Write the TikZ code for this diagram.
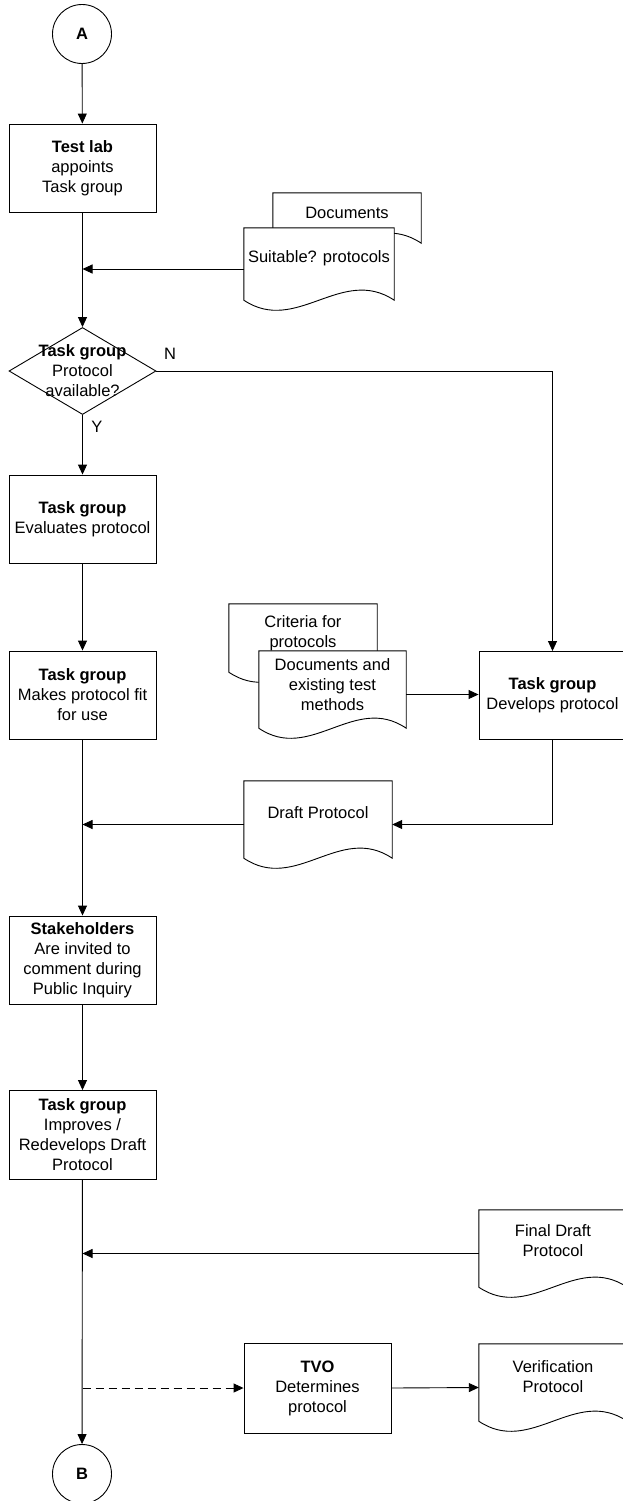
\documentclass[tikz,border=0pt]{standalone}
\usepackage{fontspec}
\setmainfont{Liberation Sans}
\usetikzlibrary{shapes.geometric,arrows.meta,calc}
\tikzset{
  base/.style={font=\fontsize{16.5pt}{20pt}\selectfont, align=center, inner sep=0pt},
  proc/.style={base, draw, line width=0.9pt, minimum width=147pt, minimum height=88pt},
  conn/.style={base, draw, circle, line width=0.9pt, minimum size=59pt},
  dec/.style={draw, diamond, line width=0.9pt, minimum width=147pt, minimum height=87pt, inner sep=0pt},
  docnode/.style={rectangle, inner sep=0pt, draw=none},
  docline/.style={draw, line width=0.9pt, fill=white},
  arr/.style={line width=0.9pt, -{Triangle[length=10pt,width=9pt]}},
}
\newcommand{\docoutline}[1]{%
  \path[docline] (#1.north west) -- (#1.north east) -- ([yshift=10pt]#1.south east)
    .. controls ($(#1.south west)!0.65!(#1.south east)+(0,45pt)$) and ($(#1.south west)!0.35!(#1.south east)+(0,-25pt)$) .. ([yshift=10pt]#1.south west) -- cycle;}
\begin{document}
\begin{tikzpicture}[x=1pt,y=-1pt]
\fill[white] (0,0) rectangle (623,1501);
\useasboundingbox (0,0) rectangle (623,1501);

% main column
\node[conn] (A) at (82,34) {\textbf{A}};
\node[proc] (test) at (82.5,168) {\textbf{Test lab}\\appoints\\Task group};
\node[dec] (diam) at (82.5,371) {};
\node[base] (diamT) at (82.5,371) {\textbf{Task group}\\Protocol\\available?};
\node[base] (nlab) at (170,354) {N};
\node[base] (ylab) at (97,427) {Y};
\node[proc] (eval) at (82.5,519) {\textbf{Task group}\\Evaluates protocol};
\node[proc] (make) at (82.5,695) {\textbf{Task group}\\Makes protocol fit\\for use};
\node[proc] (stake) at (82.5,960) {\textbf{Stakeholders}\\Are invited to\\comment during\\Public Inquiry};
\node[proc, minimum height=89pt] (impr) at (82.5,1135) {\textbf{Task group}\\Improves /\\Redevelops Draft\\Protocol};
\node[conn] (B) at (82,1474) {\textbf{B}};

% right side
\node[proc] (dev) at (552.5,695.5) {\textbf{Task group}\\Develops protocol};
\node[proc, minimum height=90pt] (tvo) at (317.5,1388) {\textbf{TVO}\\Determines\\protocol};

% documents
\node[docnode, minimum width=148pt, minimum height=60pt] (docsB) at (347,223) {};
\docoutline{docsB}
\node[base] (docsBT) at ([yshift=10pt]docsB.center) {Documents};
\node[docnode, minimum width=150pt, minimum height=82pt] (suit) at (319,269) {};
\docoutline{suit}
\node[base] (suitT) at ([yshift=11pt]suit.center) {Suitable? protocols};

\node[docnode, minimum width=148pt, minimum height=78pt] (crit) at (303,643) {};
\docoutline{crit}
\node[base] (critT) at ([yshift=10pt]crit.center) {Criteria for\\protocols};
\node[docnode, minimum width=147pt, minimum height=87pt] (exist) at (332.5,694.5) {};
\docoutline{exist}
\node[base] (existT) at ([yshift=9.5pt]exist.center) {Documents and\\existing test\\methods};

\node[docnode, minimum width=148pt, minimum height=87pt] (draft) at (318,824.5) {};
\docoutline{draft}
\node[base] (draftT) at ([yshift=11.5pt]draft.center) {Draft Protocol};

\node[docnode, minimum width=148pt, minimum height=87pt] (final) at (553,1253.5) {};
\docoutline{final}
\node[base] (finalT) at ([yshift=13pt]final.center) {Final Draft\\Protocol};

\node[docnode, minimum width=148pt, minimum height=87pt] (verif) at (553,1387.5) {};
\docoutline{verif}
\node[base] (verifT) at ([yshift=10.5pt]verif.center) {Verification\\Protocol};

% connectors
\draw[arr] (A) -- (test);
\draw[arr] (test) -- (diam);
\draw[arr] (suit.west) -- (suit.west -| test.south);
\draw[arr] (diam.east) -| (dev.north);
\draw[arr] (diam.south) -- (eval.north);
\draw[arr] (eval) -- (make);
\draw[arr] (exist.east) -- (exist.east -| dev.west);
\draw[arr] (dev.south) |- (draft.east);
\draw[arr] (make) -- (stake);
\draw[arr] (draft.west) -- (draft.west -| make.south);
\draw[arr] (stake) -- (impr);
\draw[arr] (impr) -- (B);
\draw[arr] (final.west) -- (final.west -| impr.south);
\draw[arr, dashed, dash pattern=on 8pt off 5pt] (tvo.west -| impr.south) -- (tvo.west);
\draw[arr] (tvo.east) -- (verif.west);
\end{tikzpicture}
\end{document}
